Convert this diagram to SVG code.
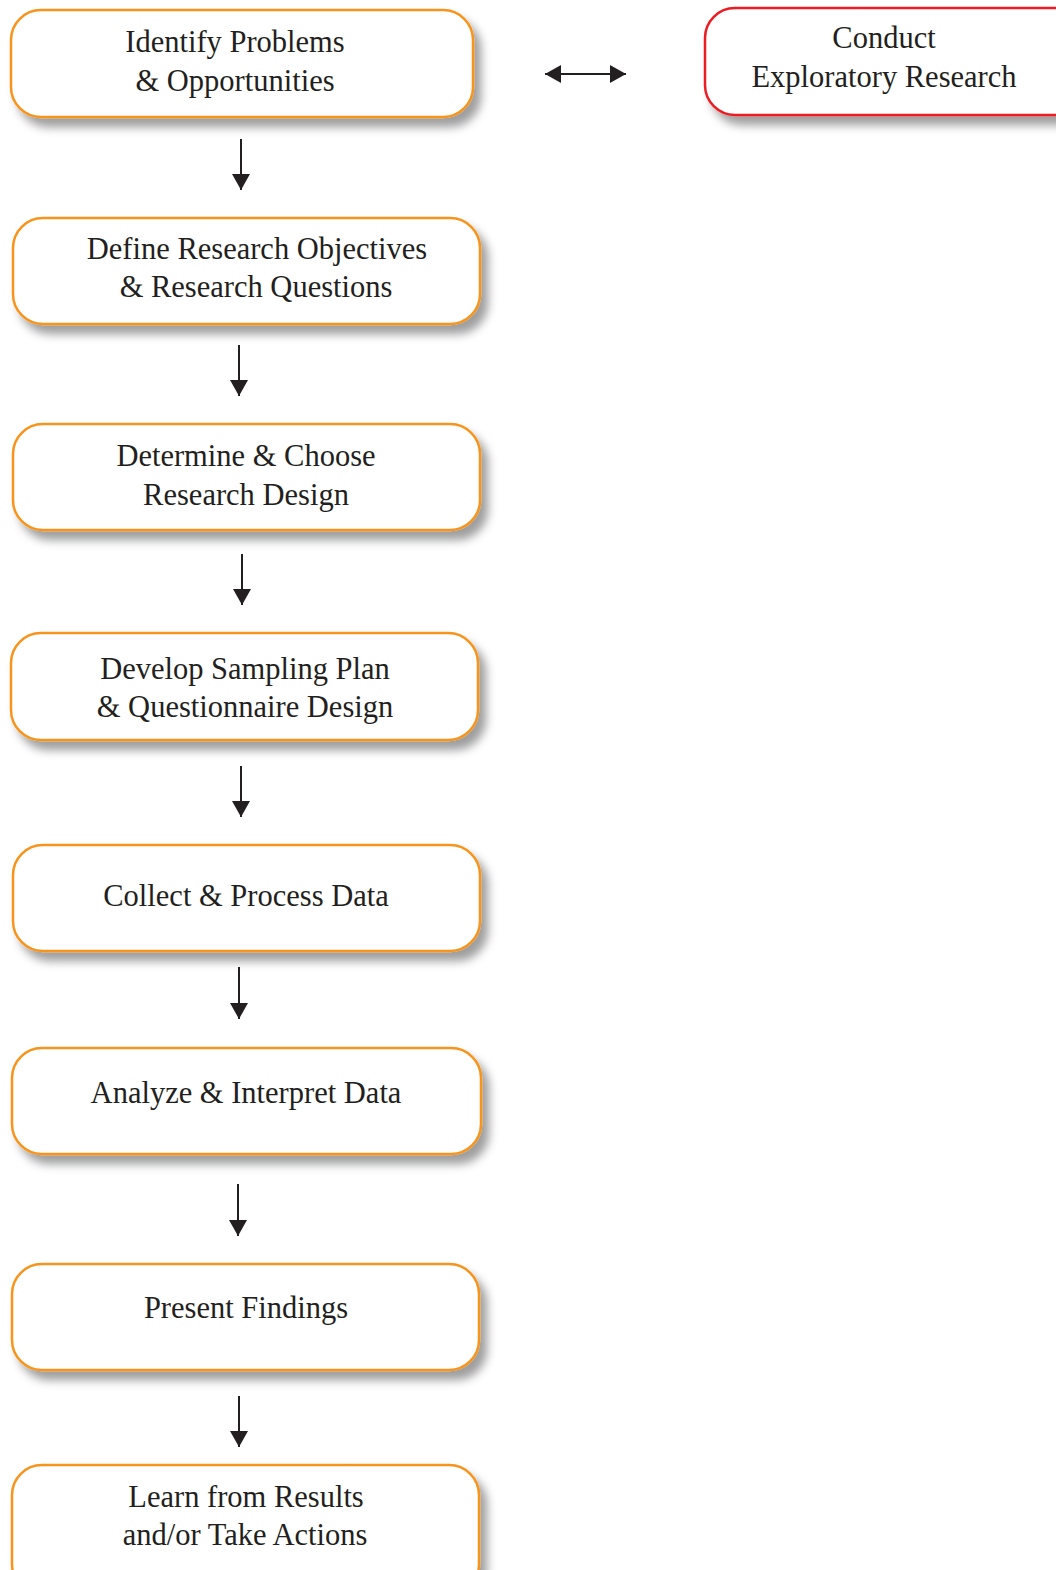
<svg xmlns="http://www.w3.org/2000/svg" width="1056" height="1570" viewBox="0 0 1056 1570">
  <defs>
    <filter id="shadow" x="-10%" y="-20%" width="125%" height="150%">
      <feDropShadow dx="7" dy="9" stdDeviation="5" flood-color="#000" flood-opacity="0.38"/>
    </filter>
    <marker id="head" viewBox="0 0 16 18" refX="16" refY="9" markerWidth="16" markerHeight="18" markerUnits="userSpaceOnUse" orient="auto-start-reverse">
      <path d="M0,0 L16,9 L0,18 Z" fill="#231f20"/>
    </marker>
  </defs>
  <style>
    .box { fill: #fff; stroke: #f7941d; stroke-width: 2.5; filter: url(#shadow); }
    .box.red { stroke: #ed1c24; }
    .label { font-family: "Liberation Serif", "DejaVu Serif", serif; font-size: 30.5px; fill: #231f20; text-anchor: middle; }
    .conn { stroke: #231f20; stroke-width: 2; fill: none; marker-end: url(#head); }
  </style>
  <rect width="1056" height="1570" fill="#fff"/>

  <g id="n1">
    <rect class="box" x="11" y="10" width="462" height="107" rx="30"/>
    <text class="label" x="235" y="52">Identify Problems</text>
    <text class="label" x="235" y="91">&amp; Opportunities</text>
  </g>
  <g id="n-explore">
    <rect class="box red" x="705" y="8" width="380" height="107" rx="30"/>
    <text class="label" x="884" y="48">Conduct</text>
    <text class="label" x="884" y="87">Exploratory Research</text>
  </g>
  <g id="n2">
    <rect class="box" x="13" y="218" width="467" height="106" rx="30"/>
    <text class="label" x="257" y="259">Define Research Objectives</text>
    <text class="label" x="256" y="297">&amp; Research Questions</text>
  </g>
  <g id="n3">
    <rect class="box" x="13" y="424" width="467" height="106" rx="30"/>
    <text class="label" x="246" y="466">Determine &amp; Choose</text>
    <text class="label" x="246" y="505">Research Design</text>
  </g>
  <g id="n4">
    <rect class="box" x="11" y="633" width="467" height="107" rx="30"/>
    <text class="label" x="245" y="679">Develop Sampling Plan</text>
    <text class="label" x="245" y="717">&amp; Questionnaire Design</text>
  </g>
  <g id="n5">
    <rect class="box" x="13" y="845" width="467" height="106" rx="30"/>
    <text class="label" x="246" y="906">Collect &amp; Process Data</text>
  </g>
  <g id="n6">
    <rect class="box" x="12" y="1048" width="469" height="106" rx="30"/>
    <text class="label" x="246" y="1103">Analyze &amp; Interpret Data</text>
  </g>
  <g id="n7">
    <rect class="box" x="12" y="1264" width="467" height="106" rx="30"/>
    <text class="label" x="246" y="1318">Present Findings</text>
  </g>
  <g id="n8">
    <rect class="box" x="12" y="1465" width="467" height="130" rx="30"/>
    <text class="label" x="246" y="1507">Learn from Results</text>
    <text class="label" x="245" y="1545">and/or Take Actions</text>
  </g>

  <g id="connectors">
    <line class="conn" x1="241" y1="139" x2="241" y2="190"/>
    <line class="conn" x1="239" y1="345" x2="239" y2="396"/>
    <line class="conn" x1="242" y1="554" x2="242" y2="605"/>
    <line class="conn" x1="241" y1="766" x2="241" y2="817"/>
    <line class="conn" x1="239" y1="967" x2="239" y2="1019"/>
    <line class="conn" x1="238" y1="1184" x2="238" y2="1236"/>
    <line class="conn" x1="239" y1="1396" x2="239" y2="1447"/>
    <line class="conn" x1="545" y1="74" x2="626" y2="74" marker-start="url(#head)"/>
  </g>
</svg>
